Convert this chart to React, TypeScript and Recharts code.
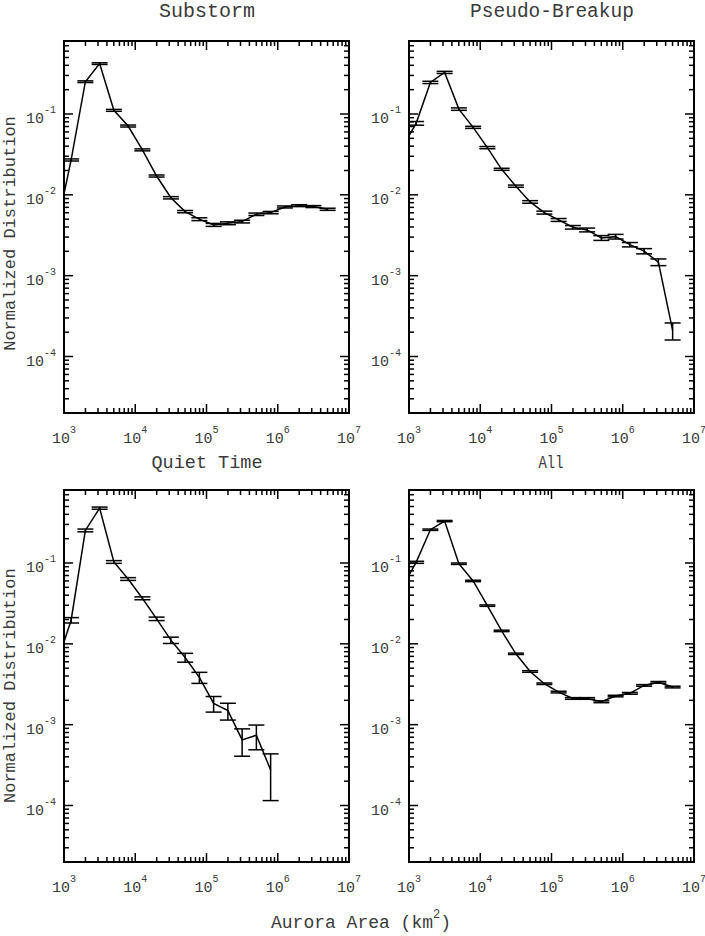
import React from "react";
import { LineChart, Line, XAxis, YAxis, ErrorBar, ReferenceLine } from "recharts";

// bin centres (km^2), 0.2-decade bins; the first one sits just left of the axis
const binCenters = [
  794, 1259, 1995, 3162, 5012, 7943, 12589, 19953, 31623, 50119,
  79433, 125893, 199526, 316228, 501187, 794328, 1258925, 1995262, 3162278, 5011872,
];

const substormValues = [
  0.0039, 0.027, 0.251, 0.42, 0.111, 0.071, 0.036, 0.0171, 0.0092, 0.0062,
  0.005, 0.00425, 0.00445, 0.00467, 0.00575, 0.00603, 0.00708, 0.00735, 0.00716, 0.00663,
];
const substormErrors = [
  0, 0.0008, 0.006, 0.01, 0.003, 0.002, 0.001, 0.0005, 0.0003, 0.0002,
  0.0002, 0.00018, 0.00018, 0.00018, 0.0002, 0.0002, 0.0002, 0.0002, 0.0002, 0.0002,
];

const pseudoValues = [
  0.038, 0.0767, 0.246, 0.327, 0.115, 0.0684, 0.0384, 0.0207, 0.0128, 0.00817,
  0.00603, 0.00489, 0.00397, 0.00368, 0.00293, 0.00304, 0.00242, 0.00201, 0.00147, 0.00021,
];
const pseudoErrors = [
  0, 0.004, 0.008, 0.01, 0.004, 0.002, 0.0012, 0.0006, 0.0004, 0.0003,
  0.00025, 0.0002, 0.0002, 0.0002, 0.0002, 0.0002, 0.00015, 0.00015, 0.00014, 0.00005,
];

const quietValues = [
  0.00573, 0.0196, 0.253, 0.477, 0.103, 0.0634, 0.0366, 0.0204, 0.0111, 0.00678,
  0.00384, 0.00183, 0.00149, 0.000647, 0.000739, 0.000275,
];
const quietErrors = [
  0, 0.0015, 0.01, 0.015, 0.004, 0.0025, 0.0015, 0.001, 0.001, 0.00085,
  0.0006, 0.0004, 0.00035, 0.00024, 0.00025, 0.00016,
];

const allValues = [
  0.0488, 0.102, 0.258, 0.33, 0.098, 0.06, 0.0297, 0.01446, 0.00753, 0.00455,
  0.00321, 0.00253, 0.00211, 0.00211, 0.00192, 0.00226, 0.00244, 0.00306, 0.00334, 0.00292,
];
const allErrors = [
  0, 0.003, 0.005, 0.006, 0.002, 0.0012, 0.0006, 0.0003, 0.00015, 0.0001,
  0.00007, 0.00006, 0.00005, 0.00005, 0.00005, 0.00005, 0.00006, 0.00007, 0.00008, 0.00007,
];

const xDecades = [1e3, 1e4, 1e5, 1e6];
const yDecades = [1e-5, 1e-4, 1e-3, 1e-2, 1e-1];
const mantissas = [1, 2, 3, 4, 5, 6, 7, 8, 9];
const xDomain = [1e3, 1e7];
const yDomain = [2e-5, 0.8];

const xTicks = [...xDecades.flatMap((d) => mantissas.map((m) => m * d)), 1e7];
const yTicks = yDecades
  .flatMap((d) => mantissas.map((m) => m * d))
  .filter((v) => v >= yDomain[0] * 0.999 && v <= yDomain[1] * 1.001);

const PW = 285;
const PH = 372;
const YW = 60;
const MT = 10;
const MR = 20;
const XH = 40;
const FONT = "'Liberation Mono', 'Courier New', monospace";
const TXT = "#3a3a3a";

// pixels per decade, used to turn a tick length into a data-space offset
const DEC_X = PW / Math.log10(xDomain[1] / xDomain[0]);
const DEC_Y = PH / Math.log10(yDomain[1] / yDomain[0]);

const isMajor = (v: number) => {
  const lg = Math.log10(v);
  return Math.abs(lg - Math.round(lg)) < 1e-6;
};
const tickLen = (v: number) => (isMajor(v) ? 9 : 5);

function XTick(props: any) {
  const { x, y, payload } = props;
  const major = isMajor(payload.value);
  return (
    <g>
      {payload.value === xDomain[0] && (
        <rect x={x} y={y - PH} width={PW} height={PH} fill="none" stroke="#000" strokeWidth={2} />
      )}
      {major && (
        <text x={x} y={y + 30} textAnchor="middle" fontFamily={FONT} fontSize={15} fill={TXT}>
          10
          <tspan dy={-10} fontSize={10}>
            {Math.round(Math.log10(payload.value))}
          </tspan>
        </text>
      )}
    </g>
  );
}

function YTick(props: any) {
  const { x, y, payload } = props;
  const major = isMajor(payload.value);
  return (
    <g>
      {major && (
        <text x={x - 8} y={y + 9.5} textAnchor="end" fontFamily={FONT} fontSize={15} fill={TXT}>
          10
          <tspan dy={-10} fontSize={10}>
            {Math.round(Math.log10(payload.value))}
          </tspan>
        </text>
      )}
    </g>
  );
}

// inward tick marks on all four sides of the box
const xTickMarks = xTicks.flatMap((v) => {
  const f = Math.pow(10, tickLen(v) / DEC_Y);
  return [
    <ReferenceLine key={`xb${v}`} segment={[{ x: v, y: yDomain[0] }, { x: v, y: yDomain[0] * f }]}
      stroke="#000" strokeWidth={1.5} ifOverflow="visible" />,
    <ReferenceLine key={`xt${v}`} segment={[{ x: v, y: yDomain[1] }, { x: v, y: yDomain[1] / f }]}
      stroke="#000" strokeWidth={1.5} ifOverflow="visible" />,
  ];
});
const yTickMarks = yTicks.flatMap((v) => {
  const f = Math.pow(10, tickLen(v) / DEC_X);
  return [
    <ReferenceLine key={`yl${v}`} segment={[{ x: xDomain[0], y: v }, { x: xDomain[0] * f, y: v }]}
      stroke="#000" strokeWidth={1.5} ifOverflow="visible" />,
    <ReferenceLine key={`yr${v}`} segment={[{ x: xDomain[1], y: v }, { x: xDomain[1] / f, y: v }]}
      stroke="#000" strokeWidth={1.5} ifOverflow="visible" />,
  ];
});

function Panel({ left, top, values, errors }: { left: number; top: number; values: number[]; errors: number[] }) {
  const data = values.map((v, i) => ({ x: binCenters[i], y: v, err: errors[i] }));
  return (
    <div style={{ position: "absolute", left: left - YW, top: top - MT }}>
      <LineChart
        width={YW + PW + MR}
        height={MT + PH + XH}
        data={data}
        margin={{ top: MT, right: MR, left: 0, bottom: 0 }}
      >
        <XAxis
          dataKey="x"
          type="number"
          scale="log"
          domain={xDomain}
          allowDataOverflow
          ticks={xTicks}
          interval={0}
          tick={(p: any) => <XTick {...p} />}
          tickSize={0}
          tickMargin={0}
          tickLine={false}
          axisLine={false}
          height={XH}
        />
        <YAxis
          type="number"
          scale="log"
          domain={yDomain}
          allowDataOverflow
          ticks={yTicks}
          interval={0}
          tick={(p: any) => <YTick {...p} />}
          tickSize={0}
          tickMargin={0}
          tickLine={false}
          axisLine={false}
          width={YW}
        />
        {xTickMarks}
        {yTickMarks}
        <Line dataKey="y" stroke="#000" strokeWidth={1.5} dot={false} isAnimationActive={false}>
          <ErrorBar dataKey="err" direction="y" width={8} stroke="#000" strokeWidth={1.5} isAnimationActive={false} />
        </Line>
      </LineChart>
    </div>
  );
}

export default function App() {
  return (
    <div style={{ position: "absolute", left: 0, top: 0, width: 705, height: 936, overflow: "hidden" }}>
      <svg width={705} height={936} style={{ position: "absolute", left: 0, top: 0 }}>
        <g fontFamily={FONT} fill={TXT}>
          <text x={207} y={17} textAnchor="middle" fontSize={20}>Substorm</text>
          <text x={552} y={17} textAnchor="middle" fontSize={19.5}>Pseudo-Breakup</text>
          <text x={207} y={468} textAnchor="middle" fontSize={18.5}>Quiet Time</text>
          <text x={551} y={468} textAnchor="middle" fontSize={19} textLength={25} lengthAdjust="spacingAndGlyphs">All</text>
          <text transform="translate(14.5,233.5) rotate(-90)" textAnchor="middle" fontSize={17}>Normalized Distribution</text>
          <text transform="translate(14.5,685.7) rotate(-90)" textAnchor="middle" fontSize={17}>Normalized Distribution</text>
          <text x={271} y={928} fontSize={18}>
            Aurora Area (km
            <tspan dy={-10} fontSize={12}>2</tspan>
            <tspan dy={10}>)</tspan>
          </text>
        </g>
      </svg>
      <Panel left={64} top={41} values={substormValues} errors={substormErrors} />
      <Panel left={409} top={41} values={pseudoValues} errors={pseudoErrors} />
      <Panel left={64} top={490} values={quietValues} errors={quietErrors} />
      <Panel left={409} top={490} values={allValues} errors={allErrors} />
    </div>
  );
}
